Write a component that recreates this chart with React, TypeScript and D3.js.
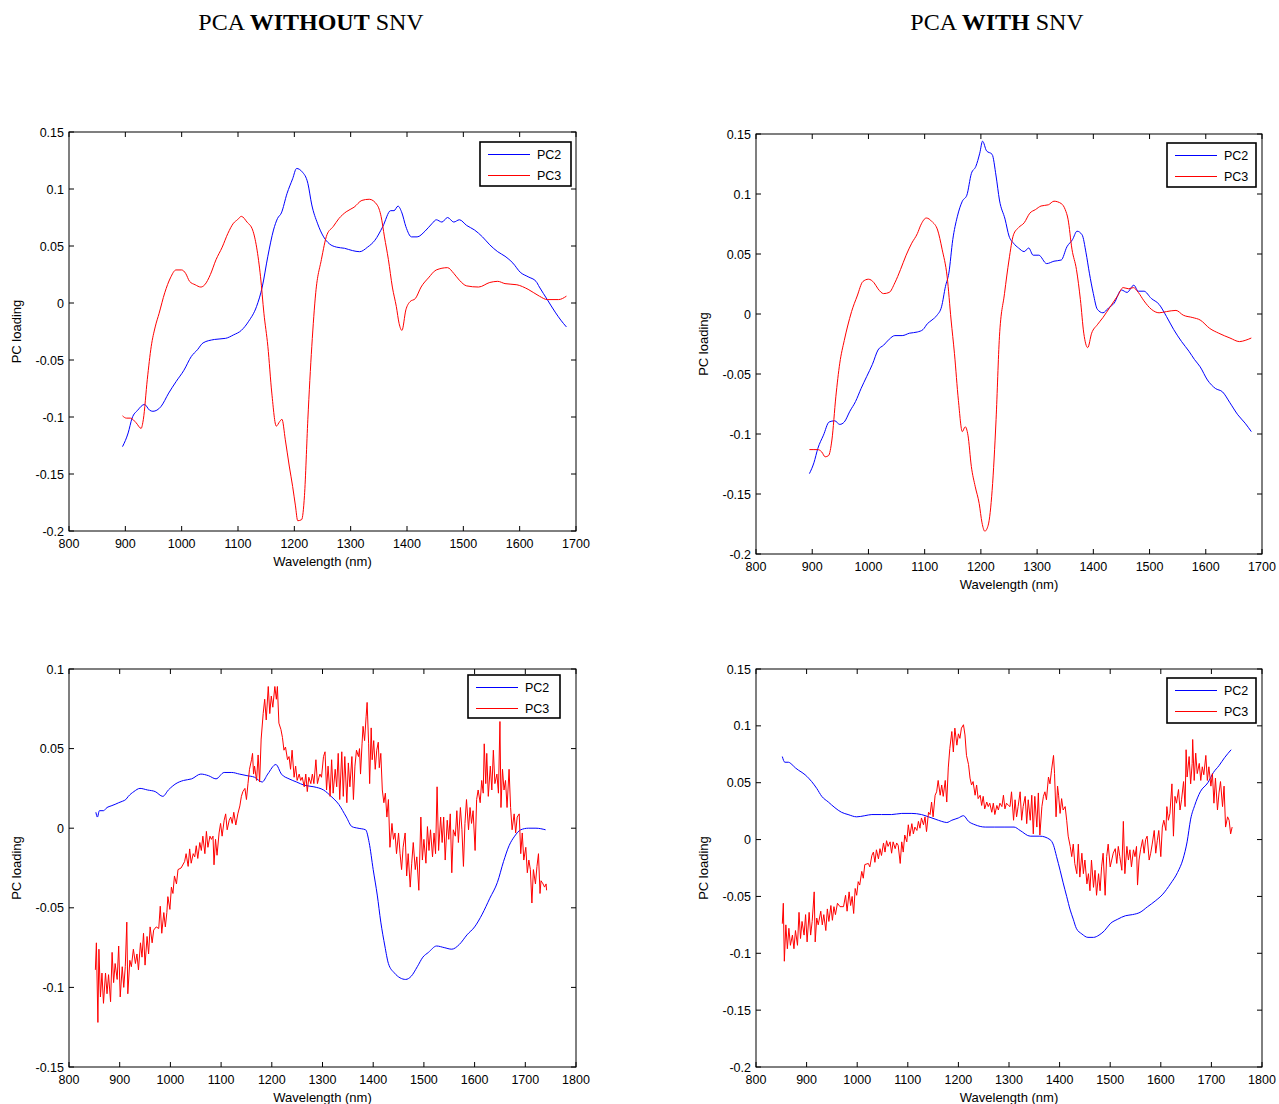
import React from "react";
import * as d3 from "d3";

type Pt = [number, number];

// ---------- Top-left: PCA without SNV (upper) ----------
const TL_PC2: Pt[] = [[895,-0.126],[905,-0.114],[912,-0.101],[922,-0.094],[934,-0.089],[943,-0.094],[949,-0.095],[963,-0.091],[977,-0.079],[990,-0.069],[1004,-0.059],[1017,-0.047],[1028,-0.041],[1038,-0.035],[1058,-0.032],[1078,-0.031],[1092,-0.028],[1106,-0.024],[1119,-0.016],[1133,-0.003],[1143,0.014],[1153,0.041],[1163,0.064],[1170,0.074],[1177,0.079],[1187,0.096],[1197,0.109],[1204,0.118],[1214,0.115],[1224,0.105],[1231,0.086],[1241,0.070],[1252,0.058],[1262,0.052],[1275,0.049],[1289,0.048],[1303,0.046],[1316,0.045],[1330,0.049],[1343,0.055],[1357,0.067],[1371,0.081],[1377,0.081],[1384,0.085],[1391,0.079],[1398,0.067],[1408,0.058],[1418,0.058],[1432,0.063],[1445,0.070],[1452,0.073],[1462,0.071],[1472,0.075],[1483,0.071],[1493,0.073],[1506,0.068],[1520,0.064],[1534,0.058],[1547,0.051],[1561,0.045],[1574,0.041],[1588,0.035],[1601,0.027],[1615,0.023],[1629,0.019],[1635,0.014],[1649,0.003],[1663,-0.008],[1673,-0.015],[1683,-0.021]];
const TL_PC3: Pt[] = [[895,-0.099],[902,-0.101],[909,-0.101],[919,-0.105],[928,-0.110],[932,-0.102],[939,-0.067],[946,-0.038],[953,-0.021],[960,-0.009],[970,0.009],[980,0.022],[990,0.029],[1000,0.029],[1007,0.026],[1014,0.019],[1024,0.016],[1034,0.014],[1041,0.016],[1051,0.025],[1061,0.038],[1072,0.049],[1082,0.061],[1092,0.070],[1099,0.073],[1106,0.076],[1116,0.071],[1126,0.064],[1133,0.049],[1140,0.023],[1146,-0.009],[1153,-0.038],[1160,-0.079],[1168,-0.108],[1174,-0.104],[1178,-0.102],[1184,-0.120],[1191,-0.143],[1197,-0.161],[1202,-0.178],[1206,-0.191],[1213,-0.190],[1218,-0.169],[1224,-0.102],[1231,-0.038],[1238,0.009],[1248,0.038],[1258,0.060],[1269,0.067],[1279,0.074],[1292,0.080],[1306,0.084],[1320,0.090],[1333,0.091],[1347,0.086],[1354,0.076],[1360,0.058],[1367,0.038],[1374,0.014],[1381,-0.003],[1386,-0.018],[1391,-0.024],[1398,-0.006],[1405,0.001],[1415,0.004],[1425,0.014],[1438,0.022],[1452,0.029],[1472,0.031],[1483,0.026],[1493,0.020],[1506,0.015],[1527,0.014],[1547,0.018],[1561,0.019],[1574,0.017],[1595,0.016],[1615,0.012],[1635,0.006],[1649,0.003],[1669,0.003],[1683,0.006]];

// ---------- Top-right: PCA with SNV (upper) ----------
const TR_PC2: Pt[] = [[895,-0.133],[903,-0.124],[910,-0.112],[920,-0.101],[930,-0.090],[940,-0.089],[949,-0.092],[957,-0.090],[967,-0.081],[977,-0.073],[987,-0.062],[997,-0.052],[1007,-0.042],[1017,-0.030],[1027,-0.026],[1037,-0.021],[1047,-0.018],[1060,-0.018],[1073,-0.016],[1087,-0.015],[1097,-0.013],[1105,-0.008],[1113,-0.005],[1122,-0.001],[1130,0.006],[1137,0.023],[1143,0.034],[1150,0.062],[1158,0.081],[1167,0.094],[1175,0.099],[1183,0.117],[1191,0.123],[1198,0.134],[1203,0.144],[1210,0.136],[1220,0.133],[1227,0.115],[1233,0.095],[1243,0.079],[1250,0.065],[1258,0.059],[1267,0.055],[1277,0.052],[1285,0.055],[1293,0.049],[1303,0.049],[1317,0.042],[1330,0.044],[1343,0.045],[1353,0.056],[1363,0.062],[1371,0.069],[1380,0.066],[1387,0.051],[1393,0.034],[1400,0.017],[1407,0.004],[1417,0.001],[1427,0.005],[1437,0.009],[1450,0.020],[1460,0.018],[1472,0.024],[1480,0.019],[1490,0.019],[1503,0.013],[1517,0.008],[1530,-0.002],[1543,-0.013],[1557,-0.023],[1570,-0.031],[1580,-0.038],[1590,-0.044],[1603,-0.055],[1617,-0.062],[1630,-0.065],[1643,-0.074],[1657,-0.084],[1670,-0.091],[1681,-0.098]];
const TR_PC3: Pt[] = [[895,-0.113],[903,-0.113],[910,-0.113],[917,-0.115],[923,-0.119],[929,-0.118],[935,-0.105],[942,-0.069],[949,-0.041],[957,-0.022],[963,-0.010],[970,0.002],[980,0.015],[990,0.027],[1000,0.029],[1010,0.026],[1017,0.021],[1027,0.017],[1037,0.018],[1047,0.026],[1057,0.037],[1067,0.049],[1077,0.059],[1087,0.067],[1093,0.074],[1103,0.080],[1113,0.077],[1123,0.070],[1131,0.054],[1140,0.031],[1147,-0.005],[1153,-0.033],[1160,-0.072],[1167,-0.098],[1172,-0.094],[1177,-0.101],[1183,-0.127],[1190,-0.144],[1197,-0.158],[1202,-0.174],[1207,-0.181],[1213,-0.176],[1220,-0.147],[1227,-0.088],[1233,-0.019],[1242,0.017],[1250,0.045],[1258,0.066],[1267,0.072],[1277,0.076],[1287,0.084],[1297,0.087],[1307,0.090],[1320,0.091],[1330,0.094],[1343,0.092],[1350,0.087],[1355,0.079],[1362,0.054],[1370,0.037],[1377,0.012],[1383,-0.016],[1390,-0.028],[1397,-0.016],[1407,-0.009],[1417,-0.003],[1430,0.006],[1443,0.015],[1453,0.022],[1463,0.021],[1471,0.022],[1480,0.018],[1490,0.011],[1503,0.004],[1517,0.001],[1530,0.002],[1547,0.003],[1560,-0.001],[1577,-0.003],[1590,-0.005],[1607,-0.012],[1623,-0.016],[1643,-0.020],[1660,-0.023],[1670,-0.022],[1681,-0.020]];

// ---------- Bottom-left: PCA without SNV (lower) ----------
const BL_PC2: Pt[] = [[853,0.010],[856,0.007],[860,0.011],[868,0.011],[875,0.013],[883,0.014],[891,0.015],[898,0.016],[906,0.017],[912,0.018],[917,0.020],[928,0.023],[940,0.025],[955,0.024],[970,0.023],[985,0.020],[996,0.024],[1011,0.028],[1026,0.030],[1042,0.031],[1060,0.034],[1075,0.033],[1090,0.031],[1106,0.035],[1121,0.035],[1136,0.034],[1151,0.033],[1166,0.032],[1181,0.029],[1192,0.034],[1208,0.040],[1219,0.034],[1234,0.031],[1249,0.029],[1264,0.027],[1283,0.026],[1302,0.024],[1317,0.020],[1332,0.015],[1347,0.007],[1358,0.001],[1370,0.000],[1385,-0.001],[1392,-0.009],[1400,-0.026],[1408,-0.042],[1415,-0.059],[1423,-0.074],[1430,-0.085],[1442,-0.091],[1453,-0.094],[1464,-0.095],[1475,-0.093],[1487,-0.087],[1498,-0.081],[1509,-0.078],[1525,-0.074],[1540,-0.075],[1555,-0.076],[1570,-0.073],[1585,-0.067],[1600,-0.062],[1615,-0.054],[1630,-0.044],[1645,-0.034],[1657,-0.021],[1668,-0.011],[1679,-0.005],[1691,-0.001],[1706,0.000],[1721,0.000],[1740,-0.001]];
const BL_PC3: Pt[] = [[852,-0.089],[854,-0.072],[857,-0.122],[859,-0.076],[862,-0.106],[865,-0.091],[868,-0.110],[872,-0.091],[875,-0.104],[878,-0.092],[882,-0.109],[885,-0.078],[888,-0.097],[891,-0.085],[895,-0.095],[898,-0.074],[901,-0.106],[905,-0.087],[908,-0.100],[911,-0.087],[914,-0.059],[916,-0.104],[920,-0.083],[923,-0.087],[927,-0.076],[931,-0.085],[934,-0.079],[937,-0.089],[941,-0.072],[944,-0.081],[947,-0.066],[950,-0.086],[954,-0.068],[957,-0.079],[960,-0.062],[964,-0.072],[967,-0.064],[972,-0.062],[977,-0.063],[980,-0.049],[983,-0.066],[987,-0.053],[990,-0.062],[993,-0.053],[995,-0.043],[999,-0.051],[1002,-0.037],[1005,-0.041],[1008,-0.030],[1012,-0.035],[1015,-0.026],[1021,-0.025],[1028,-0.021],[1031,-0.016],[1035,-0.024],[1038,-0.013],[1041,-0.022],[1045,-0.016],[1048,-0.018],[1051,-0.011],[1054,-0.019],[1058,-0.009],[1061,-0.014],[1064,-0.005],[1068,-0.016],[1071,-0.002],[1074,-0.012],[1078,-0.005],[1081,-0.007],[1084,-0.005],[1086,-0.023],[1089,-0.007],[1092,-0.017],[1096,-0.003],[1099,0.003],[1102,-0.005],[1106,0.005],[1109,0.009],[1112,-0.001],[1116,0.005],[1119,0.007],[1122,0.003],[1125,0.010],[1129,0.002],[1133,0.009],[1137,0.014],[1140,0.020],[1143,0.023],[1147,0.025],[1150,0.018],[1153,0.028],[1156,0.037],[1160,0.043],[1162,0.047],[1164,0.034],[1166,0.039],[1170,0.030],[1173,0.046],[1176,0.029],[1179,0.056],[1183,0.072],[1186,0.081],[1189,0.068],[1193,0.089],[1196,0.072],[1199,0.083],[1202,0.076],[1206,0.089],[1209,0.081],[1211,0.089],[1214,0.066],[1218,0.062],[1221,0.057],[1224,0.049],[1227,0.051],[1231,0.043],[1234,0.045],[1237,0.037],[1240,0.049],[1244,0.032],[1247,0.039],[1250,0.030],[1254,0.034],[1257,0.030],[1260,0.032],[1264,0.026],[1267,0.034],[1270,0.023],[1273,0.032],[1277,0.028],[1280,0.034],[1283,0.028],[1287,0.043],[1290,0.028],[1293,0.032],[1295,0.034],[1298,0.032],[1302,0.045],[1305,0.048],[1308,0.024],[1311,0.039],[1315,0.020],[1318,0.043],[1321,0.022],[1325,0.037],[1328,0.026],[1331,0.047],[1334,0.018],[1338,0.048],[1341,0.020],[1344,0.045],[1348,0.016],[1351,0.041],[1354,0.026],[1358,0.045],[1361,0.018],[1364,0.039],[1367,0.049],[1371,0.045],[1373,0.050],[1375,0.034],[1378,0.053],[1380,0.064],[1383,0.055],[1386,0.070],[1388,0.079],[1391,0.053],[1393,0.028],[1396,0.063],[1398,0.043],[1401,0.055],[1404,0.037],[1407,0.049],[1410,0.054],[1412,0.038],[1415,0.047],[1418,0.024],[1421,0.016],[1424,0.022],[1427,0.007],[1430,0.018],[1433,-0.012],[1437,0.003],[1440,-0.007],[1443,-0.003],[1446,-0.016],[1450,-0.003],[1453,-0.016],[1456,-0.026],[1459,-0.012],[1463,-0.003],[1466,-0.030],[1469,-0.016],[1473,-0.037],[1476,-0.022],[1479,-0.009],[1483,-0.026],[1486,-0.018],[1490,-0.039],[1494,0.007],[1497,-0.020],[1500,-0.007],[1504,-0.022],[1507,0.001],[1510,-0.014],[1513,-0.001],[1517,-0.018],[1520,-0.003],[1523,-0.016],[1526,0.026],[1529,-0.014],[1533,0.007],[1536,-0.009],[1539,0.007],[1542,-0.020],[1546,0.005],[1549,-0.007],[1552,0.009],[1555,-0.028],[1558,-0.001],[1562,-0.005],[1565,0.011],[1568,-0.009],[1572,0.013],[1575,-0.001],[1578,-0.024],[1581,0.003],[1584,0.018],[1588,-0.001],[1591,0.013],[1594,0.003],[1597,0.011],[1601,-0.014],[1604,0.018],[1607,0.024],[1611,0.016],[1614,0.030],[1617,0.022],[1619,0.053],[1622,0.028],[1624,0.047],[1627,0.020],[1631,0.039],[1634,0.024],[1637,0.049],[1640,0.028],[1644,0.034],[1647,0.022],[1650,0.067],[1652,0.013],[1655,0.037],[1658,0.024],[1661,0.030],[1664,0.013],[1668,0.037],[1671,0.013],[1674,-0.001],[1678,0.009],[1681,-0.003],[1684,0.007],[1688,0.009],[1691,-0.016],[1694,-0.003],[1697,-0.020],[1701,-0.012],[1704,-0.028],[1707,-0.020],[1710,-0.026],[1713,-0.047],[1716,-0.026],[1720,-0.035],[1723,-0.024],[1726,-0.016],[1729,-0.041],[1731,-0.033],[1735,-0.035],[1738,-0.037],[1741,-0.035],[1742,-0.039]];

// ---------- Bottom-right: PCA with SNV (lower) ----------
const BR_PC2: Pt[] = [[852,0.073],[857,0.068],[864,0.068],[871,0.066],[878,0.063],[884,0.061],[891,0.059],[897,0.057],[904,0.054],[910,0.051],[920,0.045],[930,0.038],[943,0.033],[956,0.028],[969,0.024],[982,0.022],[999,0.020],[1015,0.021],[1029,0.022],[1048,0.022],[1068,0.022],[1088,0.023],[1108,0.023],[1127,0.022],[1141,0.020],[1154,0.018],[1167,0.016],[1177,0.015],[1187,0.017],[1200,0.019],[1210,0.021],[1220,0.016],[1233,0.013],[1253,0.011],[1272,0.011],[1292,0.011],[1310,0.011],[1322,0.008],[1342,0.003],[1361,0.003],[1381,0.000],[1388,-0.005],[1394,-0.015],[1401,-0.027],[1407,-0.038],[1414,-0.050],[1421,-0.062],[1427,-0.070],[1433,-0.078],[1444,-0.083],[1456,-0.086],[1467,-0.086],[1478,-0.084],[1489,-0.080],[1500,-0.074],[1515,-0.070],[1530,-0.067],[1544,-0.066],[1559,-0.064],[1574,-0.059],[1589,-0.054],[1604,-0.048],[1619,-0.039],[1633,-0.029],[1644,-0.017],[1652,-0.002],[1659,0.018],[1667,0.030],[1678,0.042],[1693,0.050],[1704,0.059],[1715,0.065],[1726,0.072],[1739,0.079]];
const BR_PC3: Pt[] = [[852,-0.074],[854,-0.056],[856,-0.107],[859,-0.075],[862,-0.096],[865,-0.078],[868,-0.093],[872,-0.084],[875,-0.096],[878,-0.080],[882,-0.093],[885,-0.064],[888,-0.087],[891,-0.072],[895,-0.084],[898,-0.066],[901,-0.090],[905,-0.064],[908,-0.084],[911,-0.072],[915,-0.046],[917,-0.090],[920,-0.069],[923,-0.075],[928,-0.063],[931,-0.075],[934,-0.066],[938,-0.080],[941,-0.061],[944,-0.072],[948,-0.058],[951,-0.071],[954,-0.059],[957,-0.066],[961,-0.056],[966,-0.059],[973,-0.059],[977,-0.049],[980,-0.063],[984,-0.046],[987,-0.058],[990,-0.050],[993,-0.065],[996,-0.043],[999,-0.049],[1002,-0.037],[1005,-0.040],[1009,-0.028],[1012,-0.034],[1015,-0.022],[1022,-0.021],[1025,-0.024],[1029,-0.014],[1032,-0.011],[1035,-0.020],[1038,-0.009],[1042,-0.017],[1045,-0.008],[1048,-0.014],[1052,-0.003],[1055,-0.011],[1058,-0.001],[1061,-0.006],[1065,-0.002],[1068,-0.012],[1071,-0.002],[1075,-0.008],[1078,-0.003],[1081,-0.005],[1085,-0.021],[1088,-0.002],[1091,-0.011],[1094,0.004],[1098,-0.002],[1101,0.013],[1104,0.003],[1108,0.014],[1111,0.005],[1114,0.011],[1118,0.008],[1121,0.016],[1124,0.010],[1127,0.019],[1131,0.013],[1134,0.020],[1137,0.007],[1141,0.024],[1144,0.022],[1147,0.033],[1150,0.020],[1154,0.039],[1157,0.042],[1160,0.052],[1164,0.039],[1167,0.048],[1170,0.038],[1174,0.052],[1177,0.033],[1180,0.063],[1183,0.080],[1187,0.095],[1190,0.077],[1193,0.098],[1197,0.083],[1200,0.093],[1203,0.089],[1206,0.098],[1210,0.101],[1213,0.092],[1216,0.074],[1220,0.066],[1223,0.054],[1226,0.048],[1229,0.051],[1233,0.039],[1236,0.048],[1239,0.036],[1243,0.039],[1246,0.030],[1249,0.038],[1252,0.027],[1256,0.033],[1259,0.029],[1262,0.032],[1266,0.024],[1269,0.032],[1272,0.022],[1276,0.030],[1279,0.026],[1282,0.032],[1286,0.029],[1289,0.039],[1292,0.027],[1295,0.032],[1299,0.030],[1302,0.029],[1305,0.042],[1309,0.017],[1312,0.035],[1315,0.020],[1318,0.029],[1322,0.042],[1325,0.017],[1328,0.029],[1332,0.038],[1335,0.014],[1338,0.035],[1342,0.017],[1345,0.039],[1348,0.005],[1351,0.038],[1355,0.011],[1358,0.041],[1361,0.004],[1365,0.029],[1368,0.038],[1371,0.042],[1374,0.035],[1378,0.055],[1381,0.049],[1384,0.061],[1388,0.074],[1390,0.058],[1393,0.020],[1396,0.047],[1398,0.039],[1401,0.023],[1404,0.036],[1407,0.026],[1411,0.029],[1414,0.017],[1417,0.003],[1421,-0.006],[1424,-0.015],[1427,-0.004],[1430,-0.021],[1434,-0.030],[1437,-0.004],[1440,-0.033],[1444,-0.012],[1447,-0.030],[1450,-0.018],[1454,-0.039],[1457,-0.030],[1460,-0.045],[1463,-0.018],[1467,-0.042],[1470,-0.027],[1473,-0.049],[1477,-0.030],[1480,-0.045],[1483,-0.024],[1486,-0.012],[1490,-0.049],[1493,-0.015],[1496,-0.004],[1500,-0.024],[1503,-0.018],[1506,-0.012],[1510,-0.008],[1513,-0.021],[1516,-0.006],[1519,-0.015],[1523,-0.027],[1526,0.016],[1529,-0.030],[1533,-0.006],[1536,-0.018],[1539,-0.009],[1542,-0.024],[1546,-0.009],[1549,-0.015],[1552,-0.006],[1554,-0.040],[1557,-0.018],[1560,-0.009],[1564,0.000],[1567,-0.012],[1570,0.000],[1573,0.003],[1577,-0.018],[1580,-0.012],[1583,-0.004],[1587,0.008],[1590,-0.012],[1593,-0.001],[1596,0.008],[1600,-0.015],[1603,0.011],[1606,0.017],[1610,0.008],[1612,0.029],[1615,0.017],[1618,0.023],[1622,0.049],[1625,0.003],[1628,0.038],[1631,0.032],[1635,0.044],[1638,0.026],[1641,0.035],[1645,0.051],[1648,0.029],[1650,0.079],[1652,0.055],[1656,0.073],[1659,0.049],[1662,0.067],[1663,0.088],[1666,0.052],[1669,0.076],[1672,0.058],[1676,0.067],[1679,0.052],[1682,0.064],[1685,0.057],[1689,0.074],[1692,0.052],[1695,0.064],[1699,0.047],[1702,0.058],[1705,0.032],[1708,0.054],[1712,0.026],[1715,0.041],[1718,0.051],[1722,0.029],[1725,0.047],[1728,0.011],[1732,0.020],[1735,0.017],[1738,0.005],[1741,0.011]];

// ---------- Tick values ----------
const X_TICKS_TOP = [800, 900, 1000, 1100, 1200, 1300, 1400, 1500, 1600, 1700];
const X_TICKS_BOTTOM = [800, 900, 1000, 1100, 1200, 1300, 1400, 1500, 1600, 1700, 1800];
const Y_TICKS_A = [0.15, 0.1, 0.05, 0, -0.05, -0.1, -0.15, -0.2];
const Y_TICKS_B = [0.1, 0.05, 0, -0.05, -0.1, -0.15];
const SERIES_NAMES = ["PC2", "PC3"];
const SERIES_COLORS = ["#0000ff", "#ff0000"];

const TITLES = [
  { pre: "PCA ", bold: "WITHOUT", post: " SNV", cx: 311 },
  { pre: "PCA ", bold: "WITH", post: " SNV", cx: 997 },
];

interface PanelCfg {
  left: number; right: number; top: number; bottom: number;
  xDomain: [number, number]; yDomain: [number, number];
  xTicks: number[]; yTicks: number[];
  pc2: Pt[]; pc3: Pt[];
  smoothRed: boolean;
  legend: { x: number; y: number; w: number; h: number };
}

const PANELS: PanelCfg[] = [
  { left: 69, right: 576, top: 132, bottom: 531, xDomain: [800, 1700], yDomain: [-0.2, 0.15],
    xTicks: X_TICKS_TOP, yTicks: Y_TICKS_A, pc2: TL_PC2, pc3: TL_PC3, smoothRed: true,
    legend: { x: 480, y: 142, w: 91, h: 44 } },
  { left: 756, right: 1262, top: 134, bottom: 554, xDomain: [800, 1700], yDomain: [-0.2, 0.15],
    xTicks: X_TICKS_TOP, yTicks: Y_TICKS_A, pc2: TR_PC2, pc3: TR_PC3, smoothRed: true,
    legend: { x: 1167, y: 143, w: 89, h: 44 } },
  { left: 69, right: 576, top: 669, bottom: 1067, xDomain: [800, 1800], yDomain: [-0.15, 0.1],
    xTicks: X_TICKS_BOTTOM, yTicks: Y_TICKS_B, pc2: BL_PC2, pc3: BL_PC3, smoothRed: false,
    legend: { x: 468, y: 675, w: 92, h: 43 } },
  { left: 756, right: 1262, top: 669, bottom: 1067, xDomain: [800, 1800], yDomain: [-0.2, 0.15],
    xTicks: X_TICKS_BOTTOM, yTicks: Y_TICKS_A, pc2: BR_PC2, pc3: BR_PC3, smoothRed: false,
    legend: { x: 1167, y: 678, w: 89, h: 45 } },
];

const FONT = "Arial, 'Liberation Sans', Arimo, sans-serif";
const fmtY = (v: number) => String(+v.toFixed(2));

function Panel({ cfg }: { cfg: PanelCfg }) {
  const x = d3.scaleLinear().domain(cfg.xDomain).range([cfg.left, cfg.right]);
  const y = d3.scaleLinear().domain(cfg.yDomain).range([cfg.bottom, cfg.top]);
  const smooth = d3.line<Pt>().x(d => x(d[0])).y(d => y(d[1])).curve(d3.curveMonotoneX);
  const linear = d3.line<Pt>().x(d => x(d[0])).y(d => y(d[1]));
  const tl = 5;
  const w = cfg.right - cfg.left;
  const h = cfg.bottom - cfg.top;
  const lg = cfg.legend;
  return (
    <g>
      <rect x={cfg.left} y={cfg.top} width={w} height={h} fill="#fff" stroke="none" />
      <path d={smooth(cfg.pc2) || ""} fill="none" stroke={SERIES_COLORS[0]} strokeWidth={1} />
      <path d={(cfg.smoothRed ? smooth : linear)(cfg.pc3) || ""} fill="none" stroke={SERIES_COLORS[1]} strokeWidth={1} />
      {cfg.xTicks.map(t => (
        <g key={"x" + t}>
          <line x1={x(t)} x2={x(t)} y1={cfg.bottom} y2={cfg.bottom - tl} stroke="#000" strokeWidth={1} />
          <line x1={x(t)} x2={x(t)} y1={cfg.top} y2={cfg.top + tl} stroke="#000" strokeWidth={1} />
          <text x={x(t)} y={cfg.bottom + 17} textAnchor="middle" fontSize={12.5} fontFamily={FONT} fill="#000">{t}</text>
        </g>
      ))}
      {cfg.yTicks.map(t => (
        <g key={"y" + t}>
          <line x1={cfg.left} x2={cfg.left + tl} y1={y(t)} y2={y(t)} stroke="#000" strokeWidth={1} />
          <line x1={cfg.right} x2={cfg.right - tl} y1={y(t)} y2={y(t)} stroke="#000" strokeWidth={1} />
          <text x={cfg.left - 5} y={y(t) + 4.5} textAnchor="end" fontSize={12.5} fontFamily={FONT} fill="#000">{fmtY(t)}</text>
        </g>
      ))}
      <rect x={cfg.left} y={cfg.top} width={w} height={h} fill="none" stroke="#000" strokeWidth={1} />
      <text x={(cfg.left + cfg.right) / 2} y={cfg.bottom + 35} textAnchor="middle" fontSize={13} fontFamily={FONT} fill="#000">Wavelength (nm)</text>
      <text transform={`translate(${cfg.left - 48},${(cfg.top + cfg.bottom) / 2}) rotate(-90)`} textAnchor="middle" fontSize={13} fontFamily={FONT} fill="#000">PC loading</text>
      <rect x={lg.x} y={lg.y} width={lg.w} height={lg.h} fill="#fff" stroke="#000" strokeWidth={1.6} />
      {SERIES_NAMES.map((n, i) => {
        const yy = Math.round(lg.y + 12 + i * 20.5) + 0.5;
        return (
          <g key={n}>
            <line x1={lg.x + 8} x2={lg.x + 50} y1={yy} y2={yy} stroke={SERIES_COLORS[i]} strokeWidth={1} />
            <text x={lg.x + 57} y={yy + 4.5} fontSize={12.5} fontFamily={FONT} fill="#000">{n}</text>
          </g>
        );
      })}
    </g>
  );
}

export default function App() {
  return (
    <svg width={1279} height={1104} style={{ position: "absolute", left: 0, top: 0, background: "#fff" }}>
      <rect x={0} y={0} width={1279} height={1104} fill="#fff" />
      {TITLES.map((t, i) => (
        <text key={i} x={t.cx} y={30} textAnchor="middle" fontSize={24} fontFamily="'Times New Roman', 'Liberation Serif', serif" fill="#000">
          {t.pre}<tspan fontWeight="bold">{t.bold}</tspan>{t.post}
        </text>
      ))}
      {PANELS.map((p, i) => <Panel key={i} cfg={p} />)}
    </svg>
  );
}
